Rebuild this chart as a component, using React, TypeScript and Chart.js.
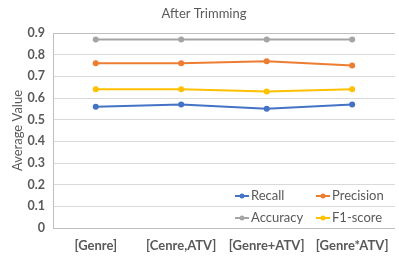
import React, { useEffect, useRef } from "react";
import { Chart, registerables } from "chart.js";

Chart.register(...registerables);

const categories = ["[Genre]", "[Cenre,ATV]", "[Genre+ATV]", "[Genre*ATV]"];
const recall = [0.56, 0.57, 0.55, 0.57];
const precision = [0.76, 0.76, 0.77, 0.75];
const accuracy = [0.87, 0.87, 0.87, 0.87];
const f1score = [0.64, 0.64, 0.63, 0.64];
const seriesNames = ["Recall", "Precision", "Accuracy", "F1-score"];
const seriesColors = ["#4472C4", "#ED7D31", "#A5A5A5", "#FFC000"];
const titleText = "After Trimming";
const yTitle = "Average Value";

const FONT = "Lato, 'Open Sans', sans-serif";
const TEXT = "#595959";

const overlay = {
  id: "overlay",
  afterDraw(chart: any) {
    const ctx = chart.ctx;
    const area = chart.chartArea;
    ctx.save();
    // title
    ctx.fillStyle = TEXT;
    ctx.font = `13px ${FONT}`;
    ctx.textAlign = "center";
    ctx.textBaseline = "middle";
    ctx.fillText(titleText, 204, 14);
    // legend inside chart area
    ctx.font = `13px ${FONT}`;
    ctx.textAlign = "left";
    const cols = [area.left + 182, area.left + 263];
    const rows = [area.bottom - 32, area.bottom - 10];
    seriesNames.forEach((name, i) => {
      const x = cols[i % 2];
      const y = rows[Math.floor(i / 2)];
      ctx.strokeStyle = seriesColors[i];
      ctx.lineWidth = 2;
      ctx.beginPath();
      ctx.moveTo(x, y);
      ctx.lineTo(x + 14, y);
      ctx.stroke();
      ctx.fillStyle = seriesColors[i];
      ctx.beginPath();
      ctx.arc(x + 7, y, 2.5, 0, Math.PI * 2);
      ctx.fill();
      ctx.fillStyle = TEXT;
      ctx.fillText(name, x + 16, y);
    });
    ctx.restore();
  },
};

export default function App() {
  const ref = useRef<HTMLCanvasElement>(null);
  useEffect(() => {
    document.body.style.margin = "0";
    const data = [recall, precision, accuracy, f1score];
    const chart = new Chart(ref.current as HTMLCanvasElement, {
      type: "line",
      data: {
        labels: categories,
        datasets: seriesNames.map((n, i) => ({
          label: n,
          data: data[i],
          borderColor: seriesColors[i],
          backgroundColor: seriesColors[i],
          borderWidth: 2,
          pointRadius: 3,
          pointBorderWidth: 0,
          tension: 0,
        })),
      },
      options: {
        responsive: false,
        animation: false,
        layout: { padding: { top: 33, left: 0, right: 0, bottom: 0 } },
        plugins: {
          legend: { display: false },
          title: { display: false },
          tooltip: { enabled: false },
        },
        scales: {
          x: {
            offset: true,
            grid: { display: false, drawTicks: false },
            border: { color: "#BFBFBF", width: 1 },
            ticks: {
              color: TEXT,
              font: { family: FONT, size: 13, weight: "bold" },
              padding: 10,
              maxRotation: 0,
              autoSkip: false,
            },
            afterFit(scale: any) {
              scale.height = 33;
            },
          },
          y: {
            min: 0,
            max: 0.9,
            grid: {
              color: (c: any) => (c.tick && c.tick.value >= 0.9 - 1e-9 ? "#BFBFBF" : "#D9D9D9"),
              drawTicks: false,
            },
            border: { color: "#BFBFBF", width: 1 },
            ticks: {
              stepSize: 0.1,
              color: TEXT,
              font: { family: FONT, size: 12.5, weight: "bold" },
              padding: 8,
              callback: (v: any) => (Math.abs(v) < 1e-9 ? "0" : Number(v).toFixed(1)),
            },
            title: {
              display: true,
              text: yTitle,
              color: TEXT,
              font: { family: FONT, size: 13 },
              padding: { top: 10, bottom: 4 },
            },
            afterFit(scale: any) {
              scale.width = 53;
            },
          },
        },
      },
      plugins: [overlay],
    });
    return () => chart.destroy();
  }, []);
  return <canvas ref={ref} width={399} height={261} style={{ display: "block" }} />;
}
